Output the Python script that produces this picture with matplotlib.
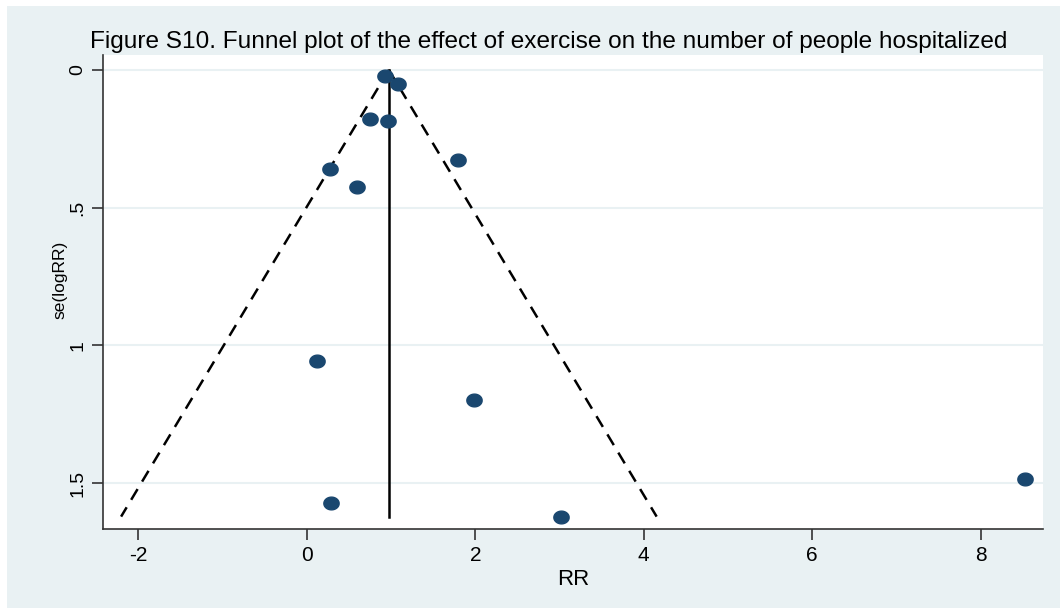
import matplotlib
matplotlib.use("Agg")
import matplotlib.pyplot as plt
from matplotlib.patches import Rectangle
from matplotlib.path import Path
import numpy as np

# study estimates: risk ratio and standard error of log RR
rr = [0.93, 1.08, 0.75, 0.96, 1.79, 0.27, 0.59, 0.12, 1.98, 0.29, 3.02, 8.53]
se = [0.022, 0.051, 0.178, 0.185, 0.327, 0.36, 0.425, 1.058, 1.20, 1.571, 1.622, 1.484]
pooled = 0.974

xticks = [-2, 0, 2, 4, 6, 8]
xtick_labels = ["-2", "0", "2", "4", "6", "8"]
yticks = [0, 0.5, 1, 1.5]
ytick_labels = ["0", ".5", "1", "1.5"]

title = "Figure S10. Funnel plot of the effect of exercise on the number of people hospitalized"

plt.rcParams['font.family'] = ['Liberation Sans', 'DejaVu Sans']

W, H = 1060, 608
fig = plt.figure(figsize=(W / 100, H / 100), dpi=100, facecolor="white")
# light stata-style background panel
fig.patches.append(Rectangle((7 / W, 0), 1, (H - 6) / H, transform=fig.transFigure,
                             facecolor="#E9F1F3", edgecolor="none", zorder=-5))

ax = fig.add_axes([103 / W, (H - 529) / H, (1043 - 103) / W, (529 - 55) / H])
ax.set_facecolor("white")

# funnel limits (pooled +/- 1.96 se) and pooled line
se_max = max(se)
se_line = np.array([0, se_max])
ax.plot(pooled - 1.96 * se_line, se_line, color="black", lw=1.8, ls=(0, (5, 3.5)))
ax.plot(pooled + 1.96 * se_line, se_line, color="black", lw=1.8, ls=(0, (5, 3.5)))
ax.plot([pooled, pooled], [0, se_max], color="black", lw=1.8)

# slightly wide oval markers
t = np.linspace(0, 2 * np.pi, 60)
oval = Path(np.column_stack([1.2 * np.cos(t), np.sin(t)]))
ax.plot(rr, se, ls="none", marker=oval, markersize=11, color="#1A476F", zorder=3)

ax.set_xlim(-2.42, 8.74)
ax.set_ylim(1.667, -0.054)
ax.set_xticks(xticks)
ax.set_xticklabels(xtick_labels)
ax.set_yticks(yticks)
ax.set_yticklabels(ytick_labels, rotation=90, va="center")
ax.grid(axis="y", color="#E9F1F3", lw=1.5)
ax.set_axisbelow(True)

for s in ["top", "right"]:
    ax.spines[s].set_visible(False)
for s in ["left", "bottom"]:
    ax.spines[s].set_color("#333333")
    ax.spines[s].set_linewidth(1.2)
ax.tick_params(axis="both", length=8, width=1.2, color="#333333", pad=4)
ax.tick_params(axis="x", labelsize=15)
ax.tick_params(axis="y", labelsize=14)

ax.set_xlabel("RR", fontsize=16, labelpad=3)
ax.set_ylabel("se(logRR)", fontsize=12.5)
ax.yaxis.set_label_coords(-0.038, 0.525)

fig.text(90 / W, (H - 42) / H, title, fontsize=17.6, ha="left", va="center")

fig.savefig("out.png", dpi=100, facecolor=fig.get_facecolor())
